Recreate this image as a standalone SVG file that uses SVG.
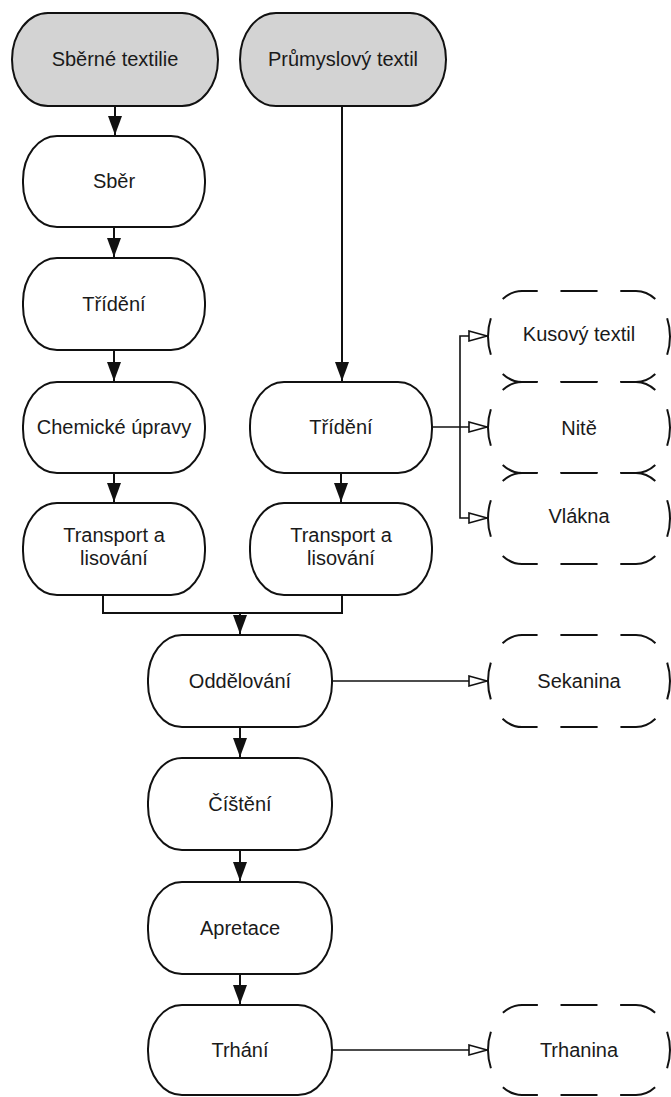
<svg xmlns="http://www.w3.org/2000/svg" width="671" height="1097" viewBox="0 0 671 1097">
<style>
.n{fill:#fff;stroke:#111;stroke-width:2}
.g{fill:#d3d3d3}
.d{fill:#fff;stroke:#111;stroke-width:2;stroke-dasharray:0.62 0.38;stroke-dashoffset:0.31}
.t{font-family:"Liberation Sans",Arial,sans-serif;font-size:20px;fill:#1a1a1a;text-anchor:middle}
.c{fill:none;stroke:#111;stroke-width:2}
.h{fill:none;stroke:#111;stroke-width:1.6}
</style>
<defs>
<marker id="fa" markerUnits="userSpaceOnUse" markerWidth="20" markerHeight="14" refX="19" refY="7" orient="auto"><path d="M0,0 L19,7 L0,14 Z" fill="#111"/></marker>
<marker id="ha" markerUnits="userSpaceOnUse" markerWidth="22" markerHeight="14" refX="19" refY="6" orient="auto"><path d="M1,1 L19,6 L1,11 Z" fill="#fff" stroke="#111" stroke-width="1.6"/></marker>
</defs>
<g id="connectors">
<path class="c" d="M115,106 V135" marker-end="url(#fa)"/>
<path class="c" d="M114,227 V257" marker-end="url(#fa)"/>
<path class="c" d="M114,350 V381" marker-end="url(#fa)"/>
<path class="c" d="M114,473 V502" marker-end="url(#fa)"/>
<path class="c" d="M342,106 V381" marker-end="url(#fa)"/>
<path class="c" d="M341,473 V502" marker-end="url(#fa)"/>
<path class="c" d="M103,595 V613 H342 V595"/>
<path class="c" d="M240,613 V634" marker-end="url(#fa)"/>
<path class="c" d="M240,727 V757" marker-end="url(#fa)"/>
<path class="c" d="M240,850 V881" marker-end="url(#fa)"/>
<path class="c" d="M240,974 V1004" marker-end="url(#fa)"/>
<path class="h" d="M432,427 H487" marker-end="url(#ha)"/>
<path class="h" d="M460,427 V336 H487" marker-end="url(#ha)"/>
<path class="h" d="M460,427 V518 H487" marker-end="url(#ha)"/>
<path class="h" d="M332,681 H487" marker-end="url(#ha)"/>
<path class="h" d="M332,1050 H487" marker-end="url(#ha)"/>
</g>
<g id="n1"><rect class="n g" x="12" y="13" width="206" height="93" rx="36" ry="46.5"/><text class="t" x="115" y="66">Sběrné textilie</text></g>
<g id="n2"><rect class="n g" x="240" y="13" width="206" height="93" rx="36" ry="46.5"/><text class="t" x="343" y="66">Průmyslový textil</text></g>
<g id="n3"><rect class="n" x="23" y="136" width="182" height="91" rx="34" ry="44"/><text class="t" x="114" y="188">Sběr</text></g>
<g id="n4"><rect class="n" x="23" y="258" width="182" height="92" rx="34" ry="44"/><text class="t" x="114" y="311">Třídění</text></g>
<g id="n5"><rect class="n" x="23" y="382" width="182" height="91" rx="34" ry="44"/><text class="t" x="114" y="434">Chemické úpravy</text></g>
<g id="n6"><rect class="n" x="23" y="503" width="182" height="92" rx="34" ry="44"/><text class="t" x="114" y="542">Transport a</text><text class="t" x="114" y="565">lisování</text></g>
<g id="n7"><rect class="n" x="250" y="382" width="182" height="91" rx="34" ry="44"/><text class="t" x="341" y="434">Třídění</text></g>
<g id="n8"><rect class="n" x="250" y="503" width="182" height="92" rx="34" ry="44"/><text class="t" x="341" y="542">Transport a</text><text class="t" x="341" y="565">lisování</text></g>
<g id="n9"><rect class="n" x="148" y="635" width="184" height="92" rx="34" ry="44"/><text class="t" x="240" y="688">Oddělování</text></g>
<g id="n10"><rect class="n" x="148" y="758" width="184" height="92" rx="34" ry="44"/><text class="t" x="240" y="811">Číštění</text></g>
<g id="n11"><rect class="n" x="148" y="882" width="184" height="92" rx="34" ry="44"/><text class="t" x="240" y="935">Apretace</text></g>
<g id="n12"><rect class="n" x="148" y="1005" width="184" height="90" rx="34" ry="44"/><text class="t" x="240" y="1057">Trhání</text></g>
<g id="n13"><path class="d" pathLength="8" d="M579,291 H636 A34,45.5 0 0 1 670,336.5 A34,45.5 0 0 1 636,382 H522 A34,45.5 0 0 1 488,336.5 A34,45.5 0 0 1 522,291 Z"/><text class="t" x="579" y="341">Kusový textil</text></g>
<g id="n14"><path class="d" pathLength="8" d="M579,382 H636 A34,45.5 0 0 1 670,427.5 A34,45.5 0 0 1 636,473 H522 A34,45.5 0 0 1 488,427.5 A34,45.5 0 0 1 522,382 Z"/><text class="t" x="579" y="435">Nitě</text></g>
<g id="n15"><path class="d" pathLength="8" d="M579,473 H636 A34,45.5 0 0 1 670,518.5 A34,45.5 0 0 1 636,564 H522 A34,45.5 0 0 1 488,518.5 A34,45.5 0 0 1 522,473 Z"/><text class="t" x="579" y="523">Vlákna</text></g>
<g id="n16"><path class="d" pathLength="8" d="M579,635 H636 A34,46 0 0 1 670,681 A34,46 0 0 1 636,727 H522 A34,46 0 0 1 488,681 A34,46 0 0 1 522,635 Z"/><text class="t" x="579" y="688">Sekanina</text></g>
<g id="n17"><path class="d" pathLength="8" d="M579,1005 H636 A34,45 0 0 1 670,1050 A34,45 0 0 1 636,1095 H522 A34,45 0 0 1 488,1050 A34,45 0 0 1 522,1005 Z"/><text class="t" x="579" y="1057">Trhanina</text></g>
</svg>
